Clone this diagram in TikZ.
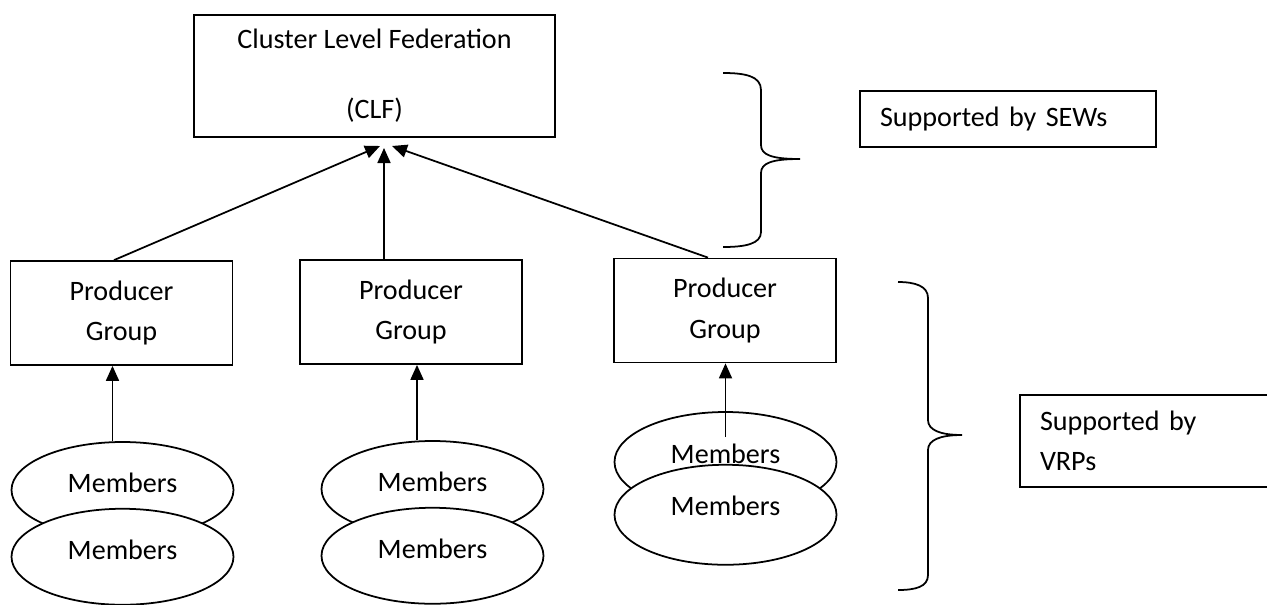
\documentclass[tikz,border=0pt]{standalone}
\usepackage{fontspec}
\setmainfont{Carlito}
\usepackage{tikz}
\usetikzlibrary{arrows.meta,shapes,positioning}
\tikzstyle{arrow} = [line width=1pt,-{Triangle[length=0.3cm,width=0.26cm]}]
\tikzstyle{level} = [rectangle, draw, line width=1pt, align=center]
\tikzstyle{group} = [rectangle, draw, line width=1pt, minimum width=4.44cm, minimum height=2.08cm, align=center]
\tikzstyle{member} = [ellipse, draw, line width=1pt, fill=white, minimum width=4.44cm, minimum height=1.92cm, text depth=0.3cm]
\tikzstyle{note} = [rectangle, draw, line width=1pt, align=left, inner xsep=0.4cm]
\tikzstyle{curly} = [line width=1pt]

\begin{document}
\begin{tikzpicture}[font=\fontsize{16}{23}\selectfont]
\useasboundingbox (0,0) rectangle (25.34,12.08);

% Federation
\node (clf) [level, minimum width=7.22cm, minimum height=2.44cm] at (7.49,10.56) {Cluster Level Federation\\[17pt](CLF)};

% Producer groups
\node (pg1) [group] at (2.43,5.82) {Producer\\Group};
\node (pg2) [group] at (8.22,5.84) {Producer\\Group};
\node (pg3) [group] at (14.5,5.87) {Producer\\Group};

% Members
\node (m1a) [member] at (2.45,2.28) {Members};
\node (m1b) [member, below=-0.62cm of m1a] {Members};
\node (m2a) [member] at (8.65,2.30) {Members};
\node (m2b) [member, below=-0.62cm of m2a] {Members};
\node (m3a) [member, minimum height=2cm, text depth=0.35cm] at (14.51,2.84) {Members};
\node (m3b) [member, minimum height=2cm, text depth=0.35cm, below=-0.98cm of m3a] {Members};

% Members to groups
\draw[arrow] ([xshift=-0.2cm]m1a.north) -- ([xshift=-0.2cm]m1a.north |- pg1.south);
\draw[arrow] ([xshift=-0.31cm]m2a.north) -- ([xshift=-0.31cm]m2a.north |- pg2.south);
\draw[arrow] ([yshift=0.5cm]m3a.center) -- (m3a.center |- pg3.south);

% Groups to federation
\coordinate (tipL) at (7.6,9.16);
\coordinate (tipM) at (7.68,9.12);
\coordinate (tipR) at (7.84,9.16);
\draw[arrow] ([xshift=-0.15cm]pg1.north) -- (tipL);
\draw[arrow] ([xshift=-0.54cm]pg2.north) -- (tipM);
\draw[arrow] ([xshift=-0.34cm]pg3.north) -- (tipR);

% Braces
\draw[curly] (14.46,10.62) .. controls (14.90,10.62) and (15.22,10.56) .. (15.22,10.28)
  -- (15.22,9.18) .. controls (15.22,8.98) and (15.44,8.90) .. (16.00,8.90)
  .. controls (15.44,8.90) and (15.22,8.82) .. (15.22,8.62)
  -- (15.22,7.44) .. controls (15.22,7.20) and (14.90,7.14) .. (14.46,7.14);
\draw[curly] (17.96,6.44) .. controls (18.30,6.44) and (18.56,6.36) .. (18.56,6.12)
  -- (18.56,3.68) .. controls (18.56,3.48) and (18.80,3.38) .. (19.24,3.38)
  .. controls (18.80,3.38) and (18.56,3.28) .. (18.56,3.08)
  -- (18.56,0.58) .. controls (18.56,0.34) and (18.30,0.28) .. (17.96,0.28);

% Support notes
\node (sew) [note, text width=5.12cm, minimum height=1.12cm] at (20.16,9.70) {Supported by SEWs};
\node (vrp) [note, text width=5.0cm, minimum height=1.84cm] at (23.30,3.26) {Supported by\\VRPs};
\end{tikzpicture}
\end{document}
